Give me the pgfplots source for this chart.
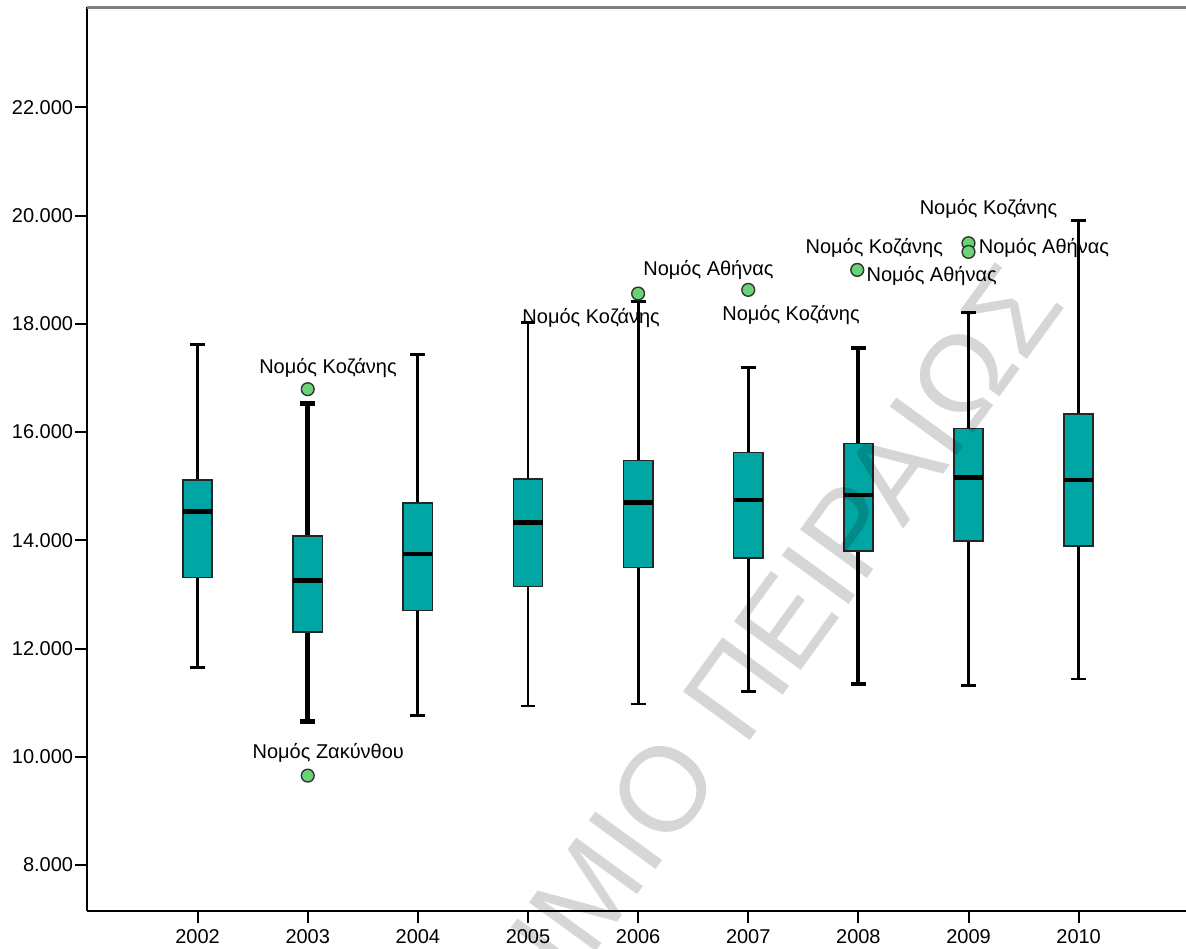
\documentclass[border=0pt]{standalone}
\usepackage{fontspec}
\setmainfont{Liberation Sans}
\usepackage{pgfplots}
\pgfplotsset{compat=1.18}
\usepgfplotslibrary{statistics}
\definecolor{boxteal}{RGB}{0,166,164}
\definecolor{outgreen}{RGB}{104,212,118}
\tikzset{lbl/.style={anchor=base west, inner sep=0pt, font=\fontsize{10pt}{12pt}\selectfont},
         wm/.style={overlay, rotate=54, inner sep=0pt, text=black, text opacity=0.16, font=\fontsize{60pt}{60pt}\selectfont}}
\begin{document}
\begin{tikzpicture}
\begin{axis}[
  scale only axis, width=549.25pt, height=451.7pt,
  xmin=-1, xmax=8.975, ymin=7155, ymax=23850,
  clip=false,
  axis x line*=bottom, axis y line*=left,
  axis line style={black, line width=1pt},
  tick align=outside, major tick length=6pt,
  tick style={black, line width=1pt},
  xtick={0,1,2,3,4,5,6,7,8},
  xticklabels={2002,2003,2004,2005,2006,2007,2008,2009,2010},
  ytick={8000,10000,12000,14000,16000,18000,20000,22000},
  yticklabels={8.000,10.000,12.000,14.000,16.000,18.000,20.000,22.000},
  ticklabel style={font=\fontsize{10pt}{12pt}\selectfont},
  yticklabel style={inner xsep=1pt},
  minor tick num=0,
  boxplot/draw direction=y,
  boxplot/box extend=0.265,
  boxplot/whisker extend=0.136,
  boxplot/every box/.style={draw=black!85, fill=boxteal, line width=0.8pt},
  boxplot/every median/.style={draw=black, line width=2.2pt},
  boxplot/every whisker/.style={draw=black, line width=1.4pt},
]
% top frame line
\draw[color=gray, line width=1.5pt] (rel axis cs:0,1) -- (rel axis cs:1,1);

\addplot[boxplot prepared={draw position=0, lower whisker=11654, lower quartile=13311, median=14531, upper quartile=15116, upper whisker=17625}] coordinates {};
\addplot[boxplot prepared={draw position=1, lower whisker=10649, lower quartile=12307, median=13255, upper quartile=14081, upper whisker=16534}, boxplot/every whisker/.style={draw=black, line width=2.4pt}] coordinates {};
\addplot[boxplot prepared={draw position=2, lower whisker=10760, lower quartile=12701, median=13749, upper quartile=14685, upper whisker=17440}] coordinates {};
\addplot[boxplot prepared={draw position=3, lower whisker=10939, lower quartile=13145, median=14328, upper quartile=15129, upper whisker=18024}] coordinates {};
\addplot[boxplot prepared={draw position=4, lower whisker=10976, lower quartile=13496, median=14697, upper quartile=15474, upper whisker=18412}] coordinates {};
\addplot[boxplot prepared={draw position=5, lower whisker=11204, lower quartile=13669, median=14747, upper quartile=15621, upper whisker=17199}] coordinates {};
\addplot[boxplot prepared={draw position=6, lower whisker=11340, lower quartile=13806, median=14837, upper quartile=15787, upper whisker=17549}, boxplot/every whisker/.style={draw=black, line width=2pt}] coordinates {};
\addplot[boxplot prepared={draw position=7, lower whisker=11315, lower quartile=13989, median=15163, upper quartile=16068, upper whisker=18212}] coordinates {};
\addplot[boxplot prepared={draw position=8, lower whisker=11438, lower quartile=13900, median=15118, upper quartile=16336, upper whisker=19907}] coordinates {};

% outliers
\addplot[only marks, mark=*, mark size=3.2pt, mark options={fill=outgreen, draw=black!80, line width=0.7pt}]
  coordinates {(1,16793) (1,9651) (4,18560) (5,18628) (5.99,18997) (7,19490) (7,19330)};

% outlier labels
\node[lbl] at (axis cs:0.556,17089) {Νομός Κοζάνης};
\node[lbl] at (axis cs:0.496,9959) {Νομός Ζακύνθου};
\node[lbl] at (axis cs:4.044,18887) {Νομός Αθήνας};
\node[lbl] at (axis cs:2.946,18013) {Νομός Κοζάνης};
\node[lbl] at (axis cs:4.761,18055) {Νομός Κοζάνης};
\node[lbl] at (axis cs:6.554,20027) {Νομός Κοζάνης};
\node[lbl] at (axis cs:5.517,19294) {Νομός Κοζάνης};
\node[lbl] at (axis cs:7.090,19294) {Νομός Αθήνας};
\node[lbl] at (axis cs:6.071,18782) {Νομός Αθήνας};

\coordinate (SW) at (rel axis cs:0,0);
\coordinate (NE) at (rel axis cs:1,1);
\coordinate (W1) at (axis cs:4.783,9643);
\coordinate (W2) at (axis cs:4.961,10142);
\end{axis}
% watermark
\node[wm, anchor=base east] at (W1) {ΠΑΝΕΠΙΣΤΗΜΙΟ};
\node[wm, anchor=base west] at (W2) {ΠΕΙΡΑΙΩΣ};
\path (SW) ++(-43.75pt,-19.15pt) coordinate (BL);
\path (NE) ++(0pt,3.65pt) coordinate (TR);
\pgfresetboundingbox
\path (BL) rectangle (TR);
\end{tikzpicture}
\end{document}
